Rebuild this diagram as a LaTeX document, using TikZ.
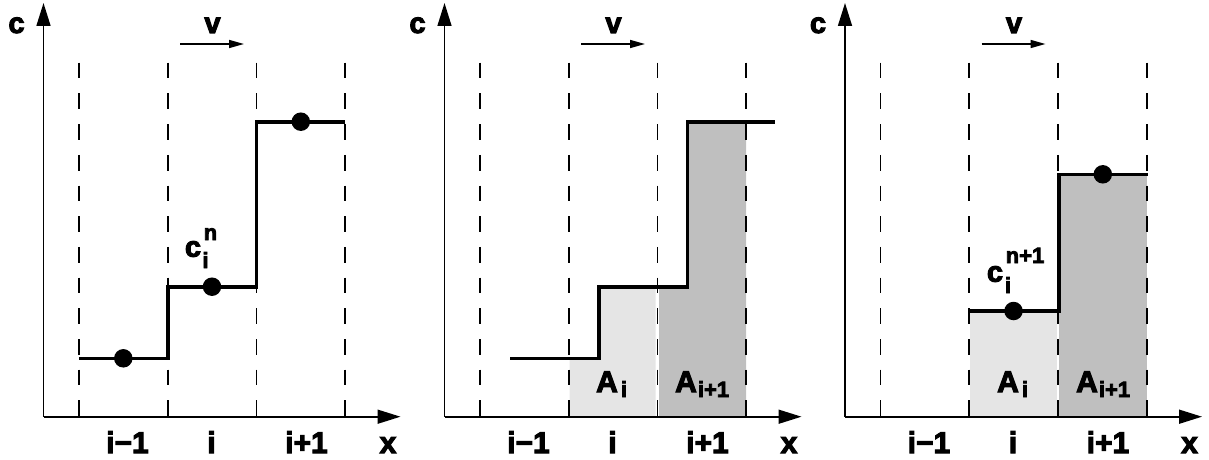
\documentclass[tikz,border=0pt]{standalone}
\usepackage{fontspec}
\setmainfont{Liberation Sans}[BoldFeatures={FakeBold=3.5}]
\usetikzlibrary{arrows.meta}
\begin{document}
\begin{tikzpicture}[x=1pt,y=-1pt,
  axis/.style={line width=1.6pt,-{Triangle[length=23pt,width=14pt]}},
  varrow/.style={line width=1.5pt,-{Triangle[length=15pt,width=8pt]}},
  gridline/.style={line width=1.8pt,dash pattern=on 15.7pt off 15pt},
  stepline/.style={line width=3.6pt},
  dot/.style={circle,fill=black,inner sep=0pt,minimum size=18.5pt},
  big/.style={font=\fontsize{30}{33}\selectfont\bfseries,inner sep=0pt,anchor=base},
  mid/.style={font=\fontsize{29}{32}\selectfont\bfseries,inner sep=0pt,anchor=base},
  cfont/.style={font=\fontsize{29}{31}\selectfont\bfseries,inner sep=0pt,anchor=base},
  small/.style={font=\fontsize{22}{24}\selectfont\bfseries,inner sep=0pt,anchor=base},
  lightfill/.style={fill=black!10},
  darkfill/.style={fill=black!25}]
\useasboundingbox (0,0) rectangle (1209,460);
% shaded areas, panel 2
\fill[lightfill] (569.5,416.7) -- (569.5,358.3) -- (599,358.3) -- (599,286.7) -- (655.6,286.7) -- (655.6,416.7) -- cycle;
\fill[darkfill] (659.2,416.7) -- (659.2,286.7) -- (687.3,286.7) -- (687.3,121.7) -- (746.1,121.7) -- (746.1,416.7) -- cycle;
% shaded areas, panel 3
\fill[lightfill] (970.2,416.7) rectangle (1056.6,311);
\fill[darkfill] (1059.4,416.7) rectangle (1146.6,174.3);
% common elements
\foreach \o [count=\k] in {0,401,801.5}{
  \begin{scope}[xshift=\o pt]
    \foreach \gx in {79,167.7,256.4,345.1}
      \draw[gridline] (\gx,62.7) -- (\gx,416.7);
    \coordinate (orig\k) at (43.5,416.7);
    \coordinate (ytip\k) at (43.5,3);
    \coordinate (xtip\k) at (400.5,416.7);
    \draw[axis] (orig\k) -- (ytip\k);
    \draw[axis] (orig\k) -- (xtip\k);
    \coordinate (vs\k) at (180,44);
    \coordinate (ve\k) at (244,44);
    \draw[varrow] (vs\k) -- (ve\k);
    \node[mid] (c\k) at (16.5,33) {c};
    \node[mid] (v\k) at (212.5,33) {v};
    \node[big] (im\k) at (127.5,453) {i−1};
    \node[big] (i\k) at (211.5,453) {i};
    \node[big] (ip\k) at (306.5,453) {i+1};
    \node[big] (x\k) at (388,453) {x};
  \end{scope}
}
% panel 1
\draw[stepline] (79,358.3) -- (167.7,358.3) -- (167.7,286.7) -- (256.4,286.7) -- (256.4,121.7) -- (345.1,121.7);
\node[dot] (d11) at (123.3,358.3) {};
\node[dot] (d12) at (212,286.7) {};
\node[dot] (d13) at (300.8,121.7) {};
\node[cfont] (cn) at (193,256.7) {c};
\node[small] (cnsub) at (205.5,268) {i};
\node[small] (cnsup) at (210.5,240) {n};
% panel 2
\draw[stepline] (510,358.3) -- (599,358.3) -- (599,286.7) -- (687.3,286.7) -- (687.3,121.7) -- (775,121.7);
\node[big] (A2) at (607,392) {A};
\node[small] (A2s) at (624,397) {i};
\node[big] (B2) at (686,392) {A};
\node[small] (B2s) at (713.5,397) {i+1};
% panel 3
\draw[stepline] (970.2,311) -- (1058.9,311) -- (1058.9,174.3) -- (1147.6,174.3);
\node[dot] (d31) at (1013.5,311) {};
\node[dot] (d32) at (1102.8,174.3) {};
\node[cfont] (cn1) at (995,281.7) {c};
\node[small] (cn1sub) at (1008,293) {i};
\node[small] (cn1sup) at (1025,263) {n+1};
\node[big] (A3) at (1008,392) {A};
\node[small] (A3s) at (1025,397) {i};
\node[big] (B3) at (1087,392) {A};
\node[small] (B3s) at (1114.5,397) {i+1};
\end{tikzpicture}
\end{document}
